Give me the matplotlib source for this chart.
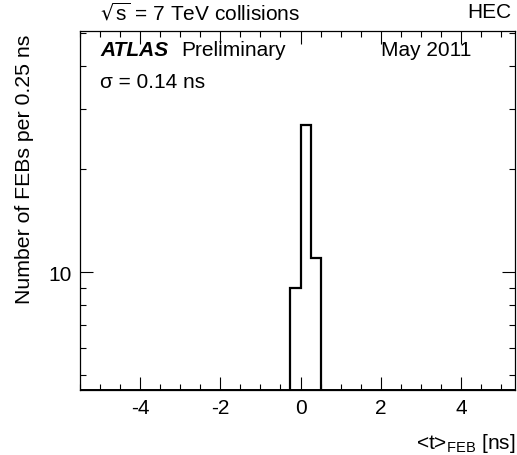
import numpy as np
import matplotlib.pyplot as plt
from matplotlib.ticker import MultipleLocator, FixedLocator, LogLocator, NullFormatter, FixedFormatter

plt.rcParams['font.family'] = ['Liberation Sans', 'DejaVu Sans']
plt.rcParams['axes.unicode_minus'] = False

# histogram of FEB mean times, 0.25 ns bins (only non-empty bins)
bin_lo = [-0.25, 0.0, 0.25]
counts = [9, 27, 11]
bin_w = 0.25

edges = np.append(np.array(bin_lo), bin_lo[-1] + bin_w)

fig = plt.figure(figsize=(5.17, 4.56), dpi=100)
ax = fig.add_axes([80/517, 1 - 391/456, (515-80)/517, (391-32)/456])

ax.stairs(counts, edges, baseline=1e-3, color='black', lw=1.6)
ax.axhline(4.53, color='black', lw=1.4)

ax.set_yscale('log')
ax.set_xlim(-5.5, 5.35)
ax.set_ylim(4.52, 50.7)

ax.xaxis.set_major_locator(MultipleLocator(2))
ax.xaxis.set_minor_locator(MultipleLocator(0.5))
ax.yaxis.set_major_locator(FixedLocator([10]))
ax.yaxis.set_major_formatter(FixedFormatter(['10']))
ax.yaxis.set_minor_locator(LogLocator(base=10, subs=np.arange(2, 10)))
ax.yaxis.set_minor_formatter(NullFormatter())

ax.tick_params(which='both', direction='in', top=True, right=True, labelsize=15, pad=6, width=0.8)
ax.tick_params(which='major', length=9.5)
ax.tick_params(which='minor', length=4.5)
for s in ax.spines.values():
    s.set_linewidth(0.9)

ax.set_ylabel('Number of FEBs per 0.25 ns', fontsize=15.3, ha='right')
ax.yaxis.set_label_coords(-0.105, 1 - 3/359)
ax.set_xlabel(r'<t>$_{\mathregular{FEB}}$ [ns]', fontsize=15, ha='right')
ax.xaxis.set_label_coords(1.0, -0.115)

fig.text(100/517, 1 - 13/456, r'$\sqrt{\mathregular{s}}$ = 7 TeV collisions', fontsize=15, va='center', ha='left')
fig.text(511/517, 1 - 13/456, 'HEC', fontsize=15, va='center', ha='right')
fig.text(100/517, 1 - 51/456, 'ATLAS', fontsize=15, fontweight='bold', style='italic', va='center')
fig.text(181/517, 1 - 51/456, 'Preliminary', fontsize=15, va='center')
fig.text(381/517, 1 - 51/456, 'May 2011', fontsize=15, va='center')
fig.text(100/517, 1 - 82/456, 'σ = 0.14 ns', fontsize=15, va='center')

fig.savefig('out.png', dpi=100)
